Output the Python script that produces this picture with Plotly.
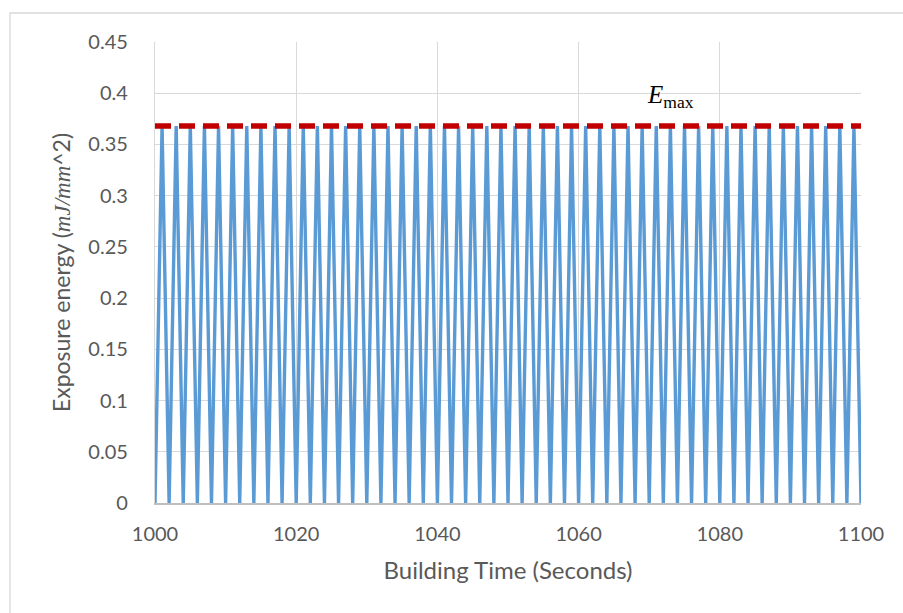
import plotly.graph_objects as go

# Building time samples (s)
building_time = [
    1000, 1001, 1002, 1003, 1004, 1005, 1006, 1007, 1008, 1009,
    1010, 1011, 1012, 1013, 1014, 1015, 1016, 1017, 1018, 1019,
    1020, 1021, 1022, 1023, 1024, 1025, 1026, 1027, 1028, 1029,
    1030, 1031, 1032, 1033, 1034, 1035, 1036, 1037, 1038, 1039,
    1040, 1041, 1042, 1043, 1044, 1045, 1046, 1047, 1048, 1049,
    1050, 1051, 1052, 1053, 1054, 1055, 1056, 1057, 1058, 1059,
    1060, 1061, 1062, 1063, 1064, 1065, 1066, 1067, 1068, 1069,
    1070, 1071, 1072, 1073, 1074, 1075, 1076, 1077, 1078, 1079,
    1080, 1081, 1082, 1083, 1084, 1085, 1086, 1087, 1088, 1089,
    1090, 1091, 1092, 1093, 1094, 1095, 1096, 1097, 1098, 1099,
    1100,
]

# Exposure energy (mJ/mm^2) at each sample
exposure_energy = [
    0, 0.368, 0, 0.368, 0, 0.368, 0, 0.368, 0, 0.368,
    0, 0.368, 0, 0.368, 0, 0.368, 0, 0.368, 0, 0.368,
    0, 0.368, 0, 0.368, 0, 0.368, 0, 0.368, 0, 0.368,
    0, 0.368, 0, 0.368, 0, 0.368, 0, 0.368, 0, 0.368,
    0, 0.368, 0, 0.368, 0, 0.368, 0, 0.368, 0, 0.368,
    0, 0.368, 0, 0.368, 0, 0.368, 0, 0.368, 0, 0.368,
    0, 0.368, 0, 0.368, 0, 0.368, 0, 0.368, 0, 0.368,
    0, 0.368, 0, 0.368, 0, 0.368, 0, 0.368, 0, 0.368,
    0, 0.368, 0, 0.368, 0, 0.368, 0, 0.368, 0, 0.368,
    0, 0.368, 0, 0.368, 0, 0.368, 0, 0.368, 0, 0.368,
    0,
]

# Maximum exposure energy level
e_max = 0.368
e_max_span = [1000, 1100]

x_ticks = [1000, 1020, 1040, 1060, 1080, 1100]
y_ticks = [0, 0.05, 0.1, 0.15, 0.2, 0.25, 0.3, 0.35, 0.4, 0.45]
y_tick_text = ["0", "0.05", "0.1", "0.15", "0.2", "0.25", "0.3", "0.35", "0.4", "0.45"]

fig = go.Figure()

fig.add_trace(go.Scatter(
    x=building_time, y=exposure_energy, mode="lines",
    line=dict(color="#5B9BD5", width=3.4),
    showlegend=False, hoverinfo="skip",
))

fig.add_trace(go.Scatter(
    x=e_max_span, y=[e_max, e_max], mode="lines",
    line=dict(color="#C00000", width=5.5, dash="16px,8px"),
    showlegend=False, hoverinfo="skip",
))

sans = "Lato, 'Open Sans', sans-serif"
label_font = dict(family=sans, size=20, color="#595959")

fig.update_xaxes(
    range=[1000, 1100], tickvals=x_ticks, ticktext=[str(v) for v in x_ticks],
    showgrid=True, gridcolor="#D9D9D9", gridwidth=1.3,
    showline=True, linecolor="#BFBFBF", linewidth=1.5,
    zeroline=False, ticks="", ticklabelstandoff=12,
    tickfont=label_font,
    title=dict(text="Building Time (Seconds)",
               font=dict(family=sans, size=24, color="#595959"), standoff=18),
)
fig.update_yaxes(
    range=[0, 0.45], tickvals=y_ticks, ticktext=y_tick_text,
    showgrid=True, gridcolor="#D9D9D9", gridwidth=1.3,
    showline=True, linecolor="#D9D9D9", linewidth=1.3,
    zeroline=False, ticks="", ticklabelstandoff=22,
    tickfont=label_font,
    title=dict(
        text="Exposure energy (<span style=\"font-family:'Liberation Serif';font-style:italic\">mJ/mm</span>^2)",
        font=dict(family=sans, size=23, color="#595959"),
        standoff=11,
    ),
)

fig.add_annotation(
    x=1073, y=0.397, xref="x", yref="y", showarrow=False,
    text="<i>E</i><sub>max</sub>",
    font=dict(family="'Liberation Serif', serif", size=25, color="#000000"),
)

# Light outer frame around the whole chart
fig.add_shape(
    type="rect", xref="paper", yref="paper",
    x0=-145 / 706, x1=1.2, y0=-0.35, y1=1 + 29 / 461,
    line=dict(color="#D9D9D9", width=1.3), layer="below",
)

fig.update_layout(
    width=903, height=613,
    margin=dict(l=155, r=42, t=42, b=110),
    plot_bgcolor="white", paper_bgcolor="white",
)

fig.write_html("out.html")
